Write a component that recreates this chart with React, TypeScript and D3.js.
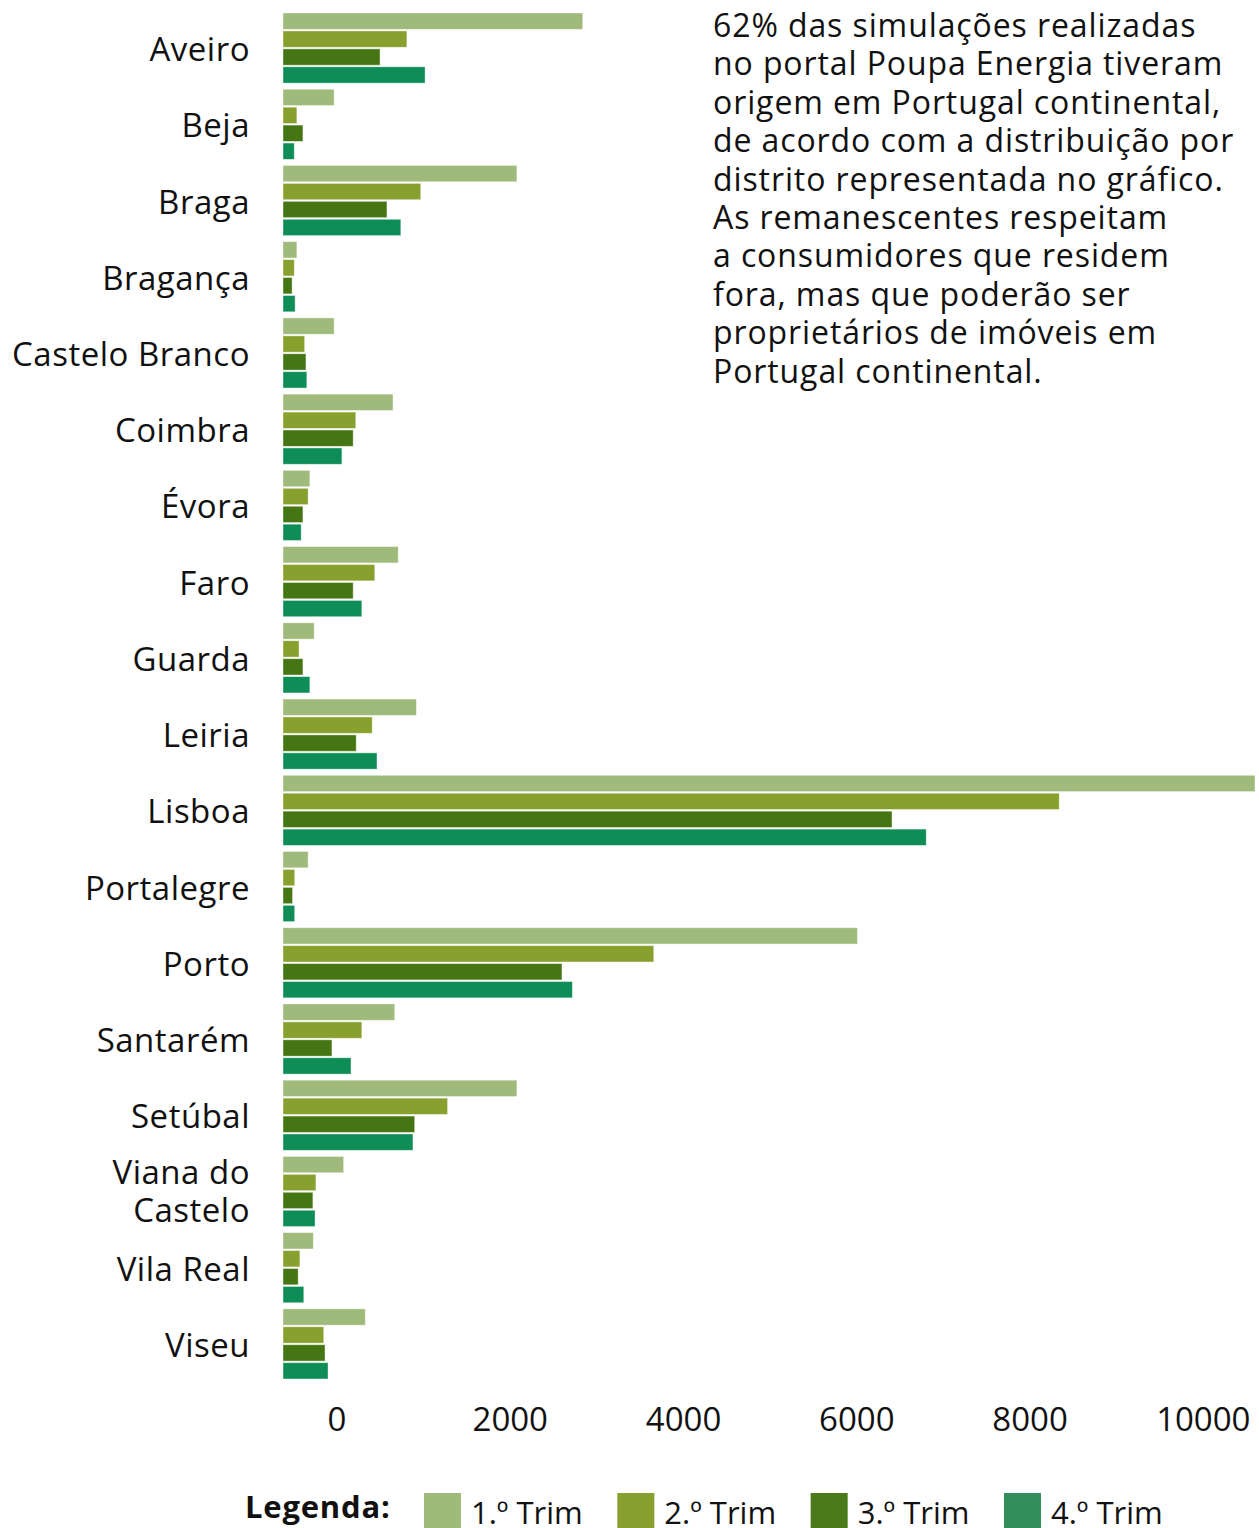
import React, { useEffect, useRef } from "react";
import * as d3 from "d3";

const districts = [
  "Aveiro", "Beja", "Braga", "Bragança", "Castelo Branco", "Coimbra", "Évora", "Faro", "Guarda",
  "Leiria", "Lisboa", "Portalegre", "Porto", "Santarém", "Setúbal", "Viana do Castelo", "Vila Real", "Viseu",
];

const seriesNames = ["1.º Trim", "2.º Trim", "3.º Trim", "4.º Trim"];

const trim1 = [3460, 590, 2700, 160, 590, 1270, 310, 1330, 360, 1540, 11220, 290, 6630, 1290, 2700, 700, 350, 950];
const trim2 = [1430, 160, 1590, 130, 250, 840, 290, 1060, 185, 1030, 8960, 135, 4280, 910, 1900, 380, 195, 470];
const trim3 = [1120, 230, 1200, 105, 265, 810, 230, 810, 230, 845, 7030, 110, 3220, 565, 1520, 345, 175, 485];
const trim4 = [1640, 130, 1360, 140, 275, 680, 210, 910, 310, 1085, 7425, 135, 3340, 785, 1500, 370, 240, 520];

const ticks = [0, 2000, 4000, 6000, 8000, 10000];

const noteLines = [
  "62% das simulações realizadas",
  "no portal Poupa Energia tiveram",
  "origem em Portugal continental,",
  "de acordo com a distribuição por",
  "distrito representada no gráfico.",
  "As remanescentes respeitam",
  "a consumidores que residem",
  "fora, mas que poderão ser",
  "proprietários de imóveis em",
  "Portugal continental.",
];

const colors = ["#9fba7a", "#88a02d", "#467614", "#0e8e56"];
const legendColors = ["#a0ba7a", "#88a02d", "#4a7a1a", "#338f5a"];

const font = "'Open Sans', sans-serif";

const App = () => {
  const svgRef = useRef<SVGSVGElement>(null);

  useEffect(() => {
    const svg = d3.select(svgRef.current);
    svg.selectAll("*").remove();

    const width = 1259,
      height = 1528;
    svg.attr("width", width).attr("height", height);

    const series = [trim1, trim2, trim3, trim4];
    const data = districts.map((name, i) => ({
      name,
      values: series.map((s, k) => ({ key: seriesNames[k], value: s[i], idx: k })),
    }));

    const xScale = d3.scaleLinear().domain([0, 11220]).range([283, 1255]);
    // the tick labels of the original sit shifted right of the bars' origin
    const labelShift = 54;

    const yScale = d3
      .scaleBand()
      .domain(districts)
      .range([13, 1379])
      .paddingInner(0.08)
      .paddingOuter(0);

    const yInner = d3
      .scaleBand()
      .domain(seriesNames)
      .range([0, yScale.bandwidth()])
      .paddingInner(0.09)
      .paddingOuter(0);

    const groups = svg
      .append("g")
      .selectAll("g")
      .data(data)
      .enter()
      .append("g")
      .attr("transform", (d) => `translate(0, ${yScale(d.name)})`);

    groups
      .selectAll("rect")
      .data((d) => d.values)
      .enter()
      .append("rect")
      .attr("x", xScale(0))
      .attr("y", (d) => yInner(d.key)!)
      .attr("width", (d) => xScale(d.value) - xScale(0))
      .attr("height", yInner.bandwidth())
      .attr("fill", (d) => colors[d.idx])
      .attr("stroke", "#ffffff")
      .attr("stroke-opacity", 0.5)
      .attr("stroke-width", 0.8);

    // category labels
    const labels = svg
      .append("g")
      .selectAll("text")
      .data(districts)
      .enter()
      .append("text")
      .attr("x", 250)
      .attr("y", (d) => yScale(d)! + yScale.bandwidth() / 2)
      .attr("text-anchor", "end")
      .attr("font-family", font)
      .attr("font-size", "33px")
      .attr("letter-spacing", "0.5px")
      .attr("fill", "#111");

    labels.each(function (d) {
      const parts = d === "Viana do Castelo" ? ["Viana do", "Castelo"] : [d];
      const t = d3.select(this);
      parts.forEach((p, i) => {
        t.append("tspan")
          .attr("x", 250)
          .attr("dy", i === 0 ? (parts.length > 1 ? -7 : 13) : 38)
          .text(p);
      });
    });

    // x axis tick labels
    svg
      .append("g")
      .selectAll("text")
      .data(ticks)
      .enter()
      .append("text")
      .attr("x", (d) => xScale(d) + labelShift)
      .attr("y", 1431)
      .attr("text-anchor", "middle")
      .attr("font-family", font)
      .attr("font-size", "33px")
      .attr("fill", "#111")
      .text((d) => d);

    // note
    svg
      .append("g")
      .selectAll("text")
      .data(noteLines)
      .enter()
      .append("text")
      .attr("x", 713)
      .attr("y", (d, i) => 37 + i * 38.4)
      .attr("font-family", font)
      .attr("font-size", "32px")
      .attr("letter-spacing", "0.9px")
      .attr("fill", "#111")
      .text((d) => d);

    // legend
    const legendX = d3.scalePoint().domain(seriesNames).range([424, 1004]);
    svg
      .append("text")
      .attr("x", 245)
      .attr("y", 1518)
      .attr("font-family", font)
      .attr("font-size", "31px")
      .attr("font-weight", "bold")
      .attr("letter-spacing", "0.8px")
      .attr("fill", "#111")
      .text("Legenda:");

    const legend = svg
      .append("g")
      .selectAll("g")
      .data(seriesNames)
      .enter()
      .append("g")
      .attr("transform", (d) => `translate(${legendX(d)}, 1493)`);

    legend
      .append("rect")
      .attr("width", 37)
      .attr("height", 40)
      .attr("fill", (d, i) => legendColors[i]);

    legend
      .append("text")
      .attr("x", 47)
      .attr("y", 31)
      .attr("font-family", font)
      .attr("font-size", "31px")
      .attr("fill", "#111")
      .text((d) => d);
  }, []);

  return <svg ref={svgRef} style={{ position: "absolute", left: 0, top: 0 }}></svg>;
};

export default App;
